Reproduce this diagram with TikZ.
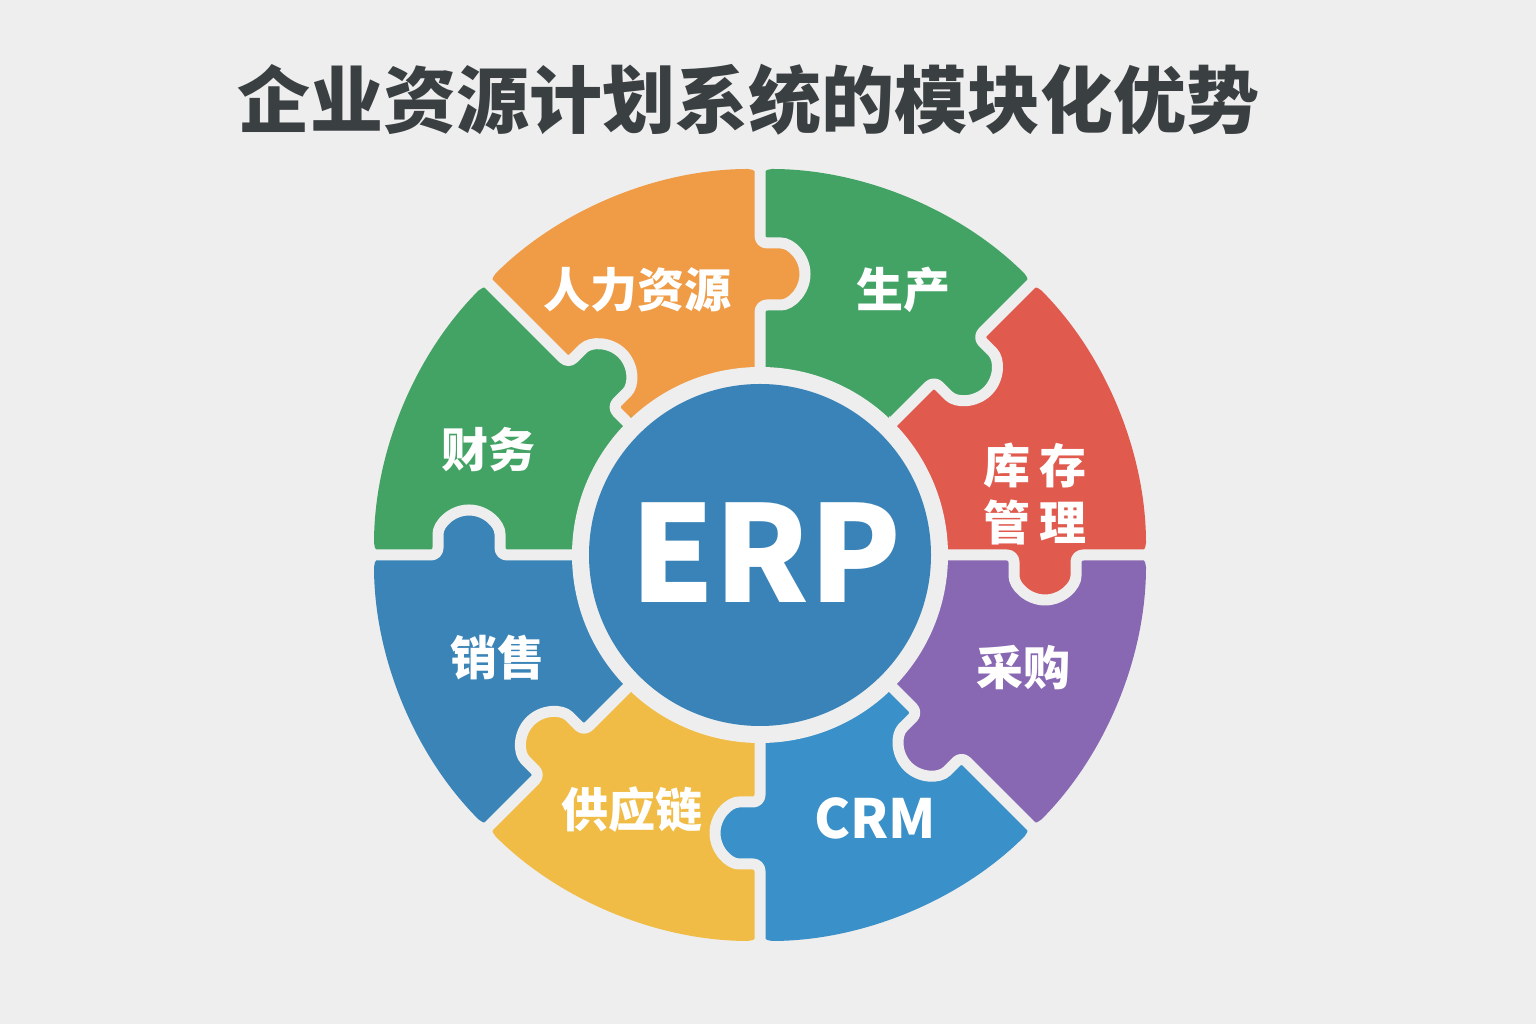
\documentclass[tikz,border=0pt]{standalone}
\usepackage{fontspec}
\setmainfont{Noto Sans}
\newfontfamily\cjk{Noto Sans CJK SC}
\definecolor{bgcol}{HTML}{EEEEEE}
\definecolor{titlegray}{HTML}{3A3F42}
\definecolor{hrorange}{HTML}{F09C47}
\definecolor{prodgreen}{HTML}{43A364}
\definecolor{stockred}{HTML}{E05A4E}
\definecolor{buypurple}{HTML}{8868B2}
\definecolor{crmblue}{HTML}{3A90C8}
\definecolor{chainyellow}{HTML}{F0BC45}
\definecolor{salesblue}{HTML}{3A84B8}
\definecolor{fingreen}{HTML}{43A364}
\definecolor{erpblue}{HTML}{3A83B8}
\begin{document}
\begin{tikzpicture}[x=1pt, y=1pt,
  gapline/.style={draw=bgcol, line width=11pt, line join=round, rounded corners=7pt},
  modlabel/.style={text=white, font=\cjk\bfseries\fontsize{47}{57}\selectfont}]

% pozadi
\fill[bgcol] (0,0) rectangle (1536,1024);
\useasboundingbox (0,0) rectangle (1536,1024);

% nadpis
\node[titlegray, font=\cjk\bfseries\fontsize{73}{80}\selectfont] (title) at (748,924) {企业资源计划系统的模块化优势};

\begin{scope}[shift={(760,469)}]
% dilky
\fill[hrorange, rounded corners=12pt] (90:183pt) -- (90:386pt) arc[start angle=90, end angle=135, radius=386pt] -- (135:183pt) arc[start angle=135, end angle=90, radius=183pt] -- cycle;
\fill[prodgreen, rounded corners=12pt] (45:183pt) -- (45:386pt) arc[start angle=45, end angle=90, radius=386pt] -- (90:183pt) arc[start angle=90, end angle=45, radius=183pt] -- cycle;
\fill[stockred, rounded corners=12pt] (0:183pt) -- (0:386pt) arc[start angle=0, end angle=45, radius=386pt] -- (45:183pt) arc[start angle=45, end angle=0, radius=183pt] -- cycle;
\fill[buypurple, rounded corners=12pt] (-45:183pt) -- (-45:386pt) arc[start angle=-45, end angle=0, radius=386pt] -- (0:183pt) arc[start angle=0, end angle=-45, radius=183pt] -- cycle;
\fill[crmblue, rounded corners=12pt] (-90:183pt) -- (-90:386pt) arc[start angle=-90, end angle=-45, radius=386pt] -- (-45:183pt) arc[start angle=-45, end angle=-90, radius=183pt] -- cycle;
\fill[chainyellow, rounded corners=12pt] (-135:183pt) -- (-135:386pt) arc[start angle=-135, end angle=-90, radius=386pt] -- (-90:183pt) arc[start angle=-90, end angle=-135, radius=183pt] -- cycle;
\fill[salesblue, rounded corners=12pt] (180:183pt) -- (180:386pt) arc[start angle=180, end angle=225, radius=386pt] -- (225:183pt) arc[start angle=225, end angle=180, radius=183pt] -- cycle;
\fill[fingreen, rounded corners=12pt] (135:183pt) -- (135:386pt) arc[start angle=135, end angle=180, radius=386pt] -- (180:183pt) arc[start angle=180, end angle=135, radius=183pt] -- cycle;

% vystupky
\fill[hrorange, rotate=90] (250pt,6pt) -- (250pt,-14pt) arc[start angle=180, end angle=360, radius=31pt] -- (312pt,6pt) -- cycle;
\fill[prodgreen, rotate=45] (246pt,6pt) -- (246pt,-14pt) arc[start angle=180, end angle=360, radius=31pt] -- (308pt,6pt) -- cycle;
\fill[stockred, rotate=0] (254pt,6pt) -- (254pt,-14pt) arc[start angle=180, end angle=360, radius=31pt] -- (316pt,6pt) -- cycle;
\fill[buypurple, rotate=-45] (223pt,6pt) -- (223pt,-14pt) arc[start angle=180, end angle=360, radius=31pt] -- (285pt,6pt) -- cycle;
\fill[crmblue, rotate=-90] (247pt,6pt) -- (247pt,-14pt) arc[start angle=180, end angle=360, radius=31pt] -- (309pt,6pt) -- cycle;
\fill[chainyellow, rotate=-135] (249pt,6pt) -- (249pt,-14pt) arc[start angle=180, end angle=360, radius=31pt] -- (311pt,6pt) -- cycle;
\fill[salesblue, rotate=180] (260pt,6pt) -- (260pt,-14pt) arc[start angle=180, end angle=360, radius=31pt] -- (322pt,6pt) -- cycle;
\fill[fingreen, rotate=135] (209pt,6pt) -- (209pt,-14pt) arc[start angle=180, end angle=360, radius=31pt] -- (271pt,6pt) -- cycle;

% spary
\draw[gapline, rotate=90] (180pt,0) -- (250pt,0) -- (250pt,-14pt) arc[start angle=180, end angle=360, radius=31pt] -- (312pt,0) -- (400pt,0);
\draw[gapline, rotate=45] (180pt,0) -- (246pt,0) -- (246pt,-14pt) arc[start angle=180, end angle=360, radius=31pt] -- (308pt,0) -- (400pt,0);
\draw[gapline, rotate=0] (180pt,0) -- (254pt,0) -- (254pt,-14pt) arc[start angle=180, end angle=360, radius=31pt] -- (316pt,0) -- (400pt,0);
\draw[gapline, rotate=-45] (180pt,0) -- (223pt,0) -- (223pt,-14pt) arc[start angle=180, end angle=360, radius=31pt] -- (285pt,0) -- (400pt,0);
\draw[gapline, rotate=-90] (180pt,0) -- (247pt,0) -- (247pt,-14pt) arc[start angle=180, end angle=360, radius=31pt] -- (309pt,0) -- (400pt,0);
\draw[gapline, rotate=-135] (180pt,0) -- (249pt,0) -- (249pt,-14pt) arc[start angle=180, end angle=360, radius=31pt] -- (311pt,0) -- (400pt,0);
\draw[gapline, rotate=180] (180pt,0) -- (260pt,0) -- (260pt,-14pt) arc[start angle=180, end angle=360, radius=31pt] -- (322pt,0) -- (400pt,0);
\draw[gapline, rotate=135] (180pt,0) -- (209pt,0) -- (209pt,-14pt) arc[start angle=180, end angle=360, radius=31pt] -- (271pt,0) -- (400pt,0);

% stred
\fill[bgcol] (0,0) circle[radius=188pt];
\node[circle, fill=erpblue, minimum size=342pt, inner sep=0pt] (hub) at (0,0) {};
\end{scope}

% popisky
\node[text=white, font=\cjk\bfseries\fontsize{134}{134}\selectfont] (erp) at (766,471) {ERP};
\node[modlabel] (hr) at (637,734) {人力资源};
\node[modlabel] (prod) at (903,734) {生产};
\node[modlabel, align=center] (stock) at (1035,530) {库\hspace{10pt}存\\管\hspace{10pt}理};
\node[modlabel] (buy) at (1023,356) {采购};
\node[text=white, font=\cjk\bfseries\fontsize{54}{54}\selectfont] (crm) at (875,206) {CRM};
\node[modlabel] (chain) at (632,214) {供应链};
\node[modlabel] (sales) at (497,366) {销售};
\node[modlabel] (fin) at (488,574) {财务};

\end{tikzpicture}
\end{document}
